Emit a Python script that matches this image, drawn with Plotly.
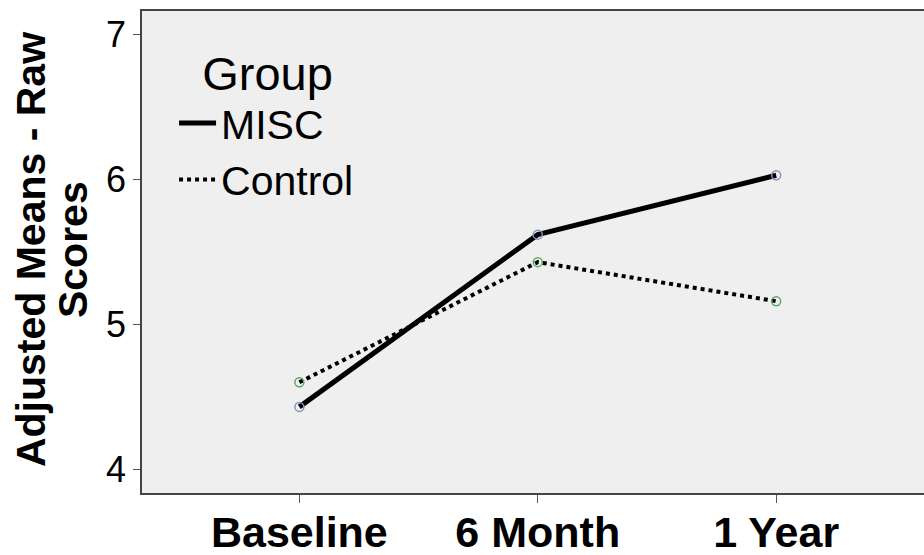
import plotly.graph_objects as go

categories = ["Baseline", "6 Month", "1 Year"]
misc_values = [4.43, 5.62, 6.03]
control_values = [4.60, 5.43, 5.16]
y_ticks = [4, 5, 6, 7]
y_title_lines = ["Adjusted Means - Raw", "Scores"]

FONT = "Liberation Sans, Arial, sans-serif"

fig = go.Figure()
# lines (legend entries)
fig.add_trace(go.Scatter(
    x=categories, y=misc_values, name="MISC", mode="lines",
    line=dict(color="black", width=5),
))
fig.add_trace(go.Scatter(
    x=categories, y=control_values, name="Control", mode="lines",
    line=dict(color="black", width=4, dash="dot"),
))
# point markers
fig.add_trace(go.Scatter(
    x=categories, y=misc_values, mode="markers", showlegend=False,
    marker=dict(symbol="circle-open", size=9, color="#8a8fc8", line=dict(width=1.5)),
))
fig.add_trace(go.Scatter(
    x=categories, y=control_values, mode="markers", showlegend=False,
    marker=dict(symbol="circle-open", size=9, color="#5fa86a", line=dict(width=1.5)),
))

# y-axis title, two lines (tighter spacing than plotly's default title)
for txt, xpos in zip(y_title_lines, [-0.142, -0.0883]):
    fig.add_annotation(
        text=txt, xref="paper", yref="paper", x=xpos, y=0.506,
        xanchor="center", yanchor="middle", textangle=-90, showarrow=False,
        font=dict(size=41, family=FONT, weight="bold", color="black"),
    )

fig.update_layout(
    width=924, height=555,
    margin=dict(l=142, r=0, t=11, b=62),
    paper_bgcolor="white", plot_bgcolor="#efefef",
    font=dict(family=FONT, color="black"),
    showlegend=True,
    legend=dict(
        x=0.041, y=0.963, xanchor="left", yanchor="top",
        bgcolor="rgba(0,0,0,0)",
        title=dict(text="  Group", font=dict(size=47, family=FONT)),
        font=dict(size=41, family=FONT),
        itemwidth=37, tracegroupgap=0,
    ),
    xaxis=dict(
        type="category", range=[-0.66, 2.62], automargin=False,
        showline=True, linecolor="#444", linewidth=1.5, mirror=True,
        ticks="outside", ticklen=8, tickcolor="#555",
        tickfont=dict(size=43, family=FONT, weight="bold"),
        ticklabelstandoff=-7,
        showgrid=False, zeroline=False,
    ),
    yaxis=dict(
        range=[3.835, 7.165], tickvals=y_ticks, automargin=False,
        showline=True, linecolor="#444", linewidth=1.5,
        ticks="outside", ticklen=7, tickcolor="#555",
        tickfont=dict(size=36, family=FONT),
        showgrid=False, zeroline=False,
    ),
)

fig.write_html("out.html", config={"displayModeBar": False},
               post_script="document.body.style.margin='0';document.body.style.padding='0';")
